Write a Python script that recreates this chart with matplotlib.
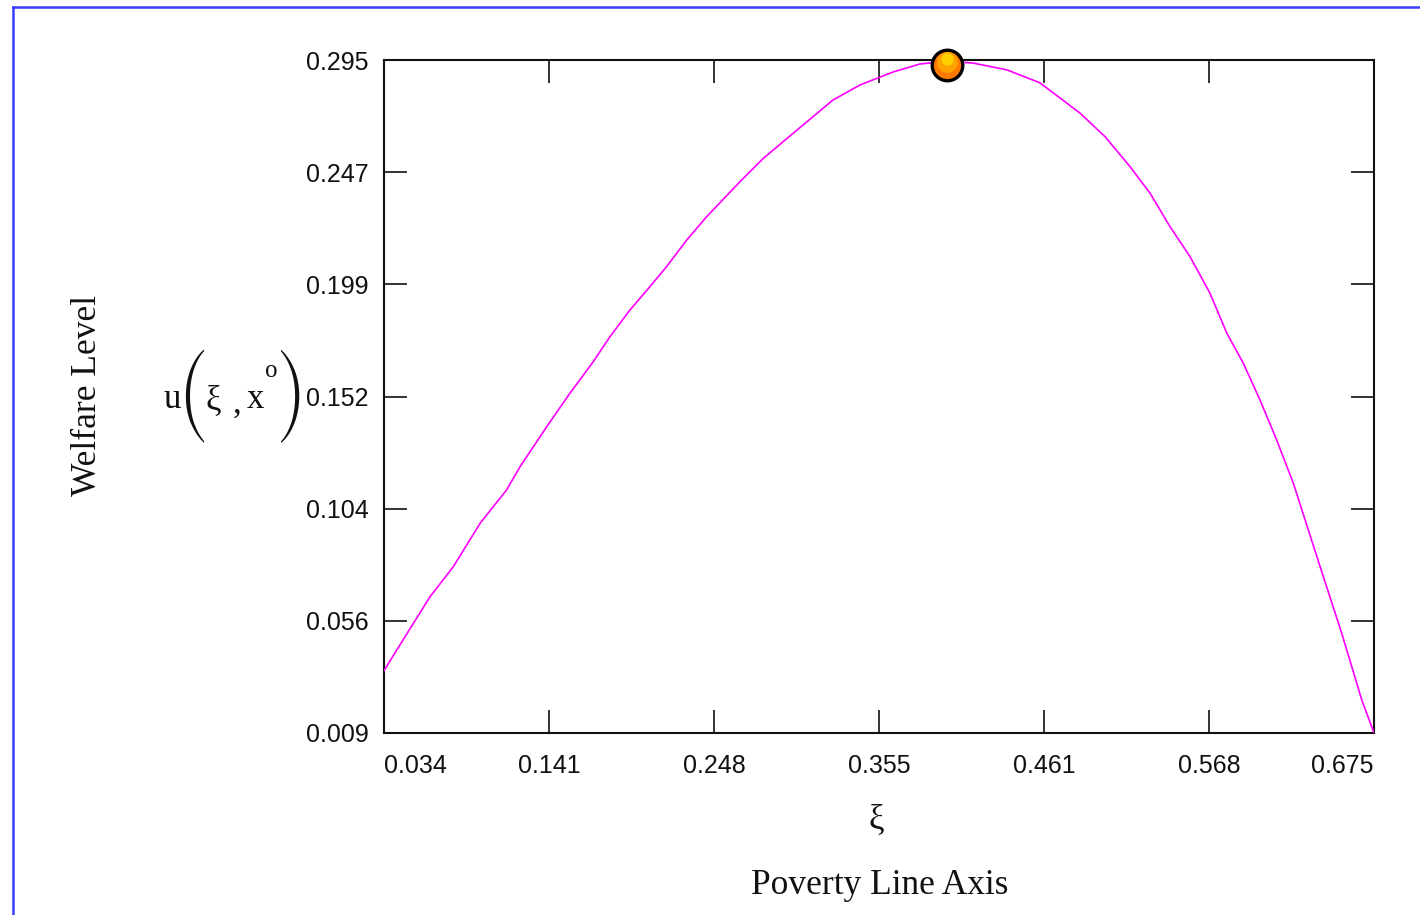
import matplotlib
matplotlib.use("Agg")
import matplotlib.pyplot as plt
import numpy as np
from matplotlib.lines import Line2D
from matplotlib.transforms import offset_copy

# кривая благосостояния u(xi, x°)
xi = [0.034, 0.0476, 0.0638, 0.0789, 0.0962, 0.1134, 0.1221, 0.1394, 0.1544,
      0.1695, 0.1803, 0.1933, 0.2062, 0.217, 0.23, 0.2429, 0.2645, 0.2796,
      0.299, 0.3247, 0.3422, 0.3636, 0.381, 0.3985, 0.4154, 0.4374, 0.4587,
      0.4847, 0.5009, 0.517, 0.53, 0.5429, 0.5559, 0.5688, 0.5797, 0.5904,
      0.6012, 0.612, 0.6228, 0.6401, 0.6541, 0.6671, 0.675]
u = [0.0355, 0.0499, 0.0669, 0.0797, 0.0981, 0.1123, 0.1222, 0.1392, 0.1534,
     0.1668, 0.1774, 0.1888, 0.1987, 0.2072, 0.2185, 0.2284, 0.2433, 0.2532,
     0.2639, 0.278, 0.2844, 0.2899, 0.2933, 0.2945, 0.2937, 0.2908, 0.2853,
     0.2724, 0.2624, 0.2497, 0.2384, 0.2242, 0.2114, 0.1959, 0.1789, 0.1661,
     0.1505, 0.1335, 0.1151, 0.0797, 0.0514, 0.023, 0.009]

# точка максимума
peak_x = [0.3985]
peak_y = [0.2930]

xlim = (0.034, 0.675)
ylim = (0.009, 0.295)
xtick_labels = ["0.034", "0.141", "0.248", "0.355", "0.461", "0.568", "0.675"]
ytick_labels = ["0.009", "0.056", "0.104", "0.152", "0.199", "0.247", "0.295"]

W, H = 1420, 915
fig = plt.figure(figsize=(W / 100, H / 100), dpi=100)
ax = fig.add_axes([384 / W, (H - 733) / H, 990 / W, 673 / H])

ax.plot(xi, u, color="#ff00ff", lw=1.2, zorder=3)

# маркер с "градиентом"
ax.plot(peak_x, peak_y, "o", ms=22, mfc="#ff7800", mec="black", mew=2.4,
        zorder=5, clip_on=False)
t1 = offset_copy(ax.transData, fig=fig, x=0, y=2.0, units="points")
ax.plot(peak_x, peak_y, "o", ms=15, mfc="#ffa200", mec="none",
        transform=t1, zorder=6, clip_on=False)
t2 = offset_copy(ax.transData, fig=fig, x=0, y=4.0, units="points")
ax.plot(peak_x, peak_y, "o", ms=9, mfc="#ffd000", mec="none",
        transform=t2, zorder=7, clip_on=False)

ax.set_xlim(*xlim)
ax.set_ylim(*ylim)
ax.set_xticks(np.linspace(xlim[0], xlim[1], len(xtick_labels)))
ax.set_xticklabels(xtick_labels)
ax.set_yticks(np.linspace(ylim[0], ylim[1], len(ytick_labels)))
ax.set_yticklabels(ytick_labels)

for s in ax.spines.values():
    s.set_linewidth(1.5)
    s.set_color("#111111")

ax.tick_params(axis="both", direction="in", length=16.5, width=1.2,
               color="#111111", top=True, right=True,
               labelsize=18, labelcolor="#111111")
ax.tick_params(axis="x", pad=15)
ax.tick_params(axis="y", pad=11)
for lab in ax.get_xticklabels() + ax.get_yticklabels():
    lab.set_family("Liberation Sans")
xl = ax.get_xticklabels()
xl[0].set_ha("left")
xl[-1].set_ha("right")

serif = "Liberation Serif"
paren = "STIXSizeThreeSym"


def px(x, y):
    return x / W, 1 - y / H


# подписи осей
fig.text(*px(88, 395), "Welfare Level", rotation=90, family=serif,
         fontsize=25.5, ha="center", va="center", color="#111111")
fig.text(*px(876, 820), "ξ", family=serif, fontsize=25,
         ha="center", va="center", color="#111111")
fig.text(*px(880, 886), "Poverty Line Axis", family=serif, fontsize=25.5,
         ha="center", va="center", color="#111111")

# u(ξ , x°)
fig.text(*px(172, 400), "u", family=serif, fontsize=25,
         ha="center", va="center", color="#111111")
fig.text(*px(192, 396), "(", family=paren, fontsize=27,
         ha="center", va="center", color="#111111")
fig.text(*px(213, 401), "ξ", family=serif, fontsize=25,
         ha="center", va="center", color="#111111")
fig.text(*px(237, 404), ",", family=serif, fontsize=25,
         ha="center", va="center", color="#111111")
fig.text(*px(255, 400), "x", family=serif, fontsize=25,
         ha="center", va="center", color="#111111")
fig.text(*px(271, 371), "o", family=serif, fontsize=18,
         ha="center", va="center", color="#111111")
fig.text(*px(292, 396), ")", family=paren, fontsize=27,
         ha="center", va="center", color="#111111")

# синяя рамка
fig.add_artist(Line2D([12.5 / W, 12.5 / W], [0, 1 - 7 / H],
                      color="#3c3cff", lw=1.8))
fig.add_artist(Line2D([12.5 / W, 1], [1 - 7 / H, 1 - 7 / H],
                      color="#3c3cff", lw=1.8))

fig.savefig("out.png", dpi=100)
